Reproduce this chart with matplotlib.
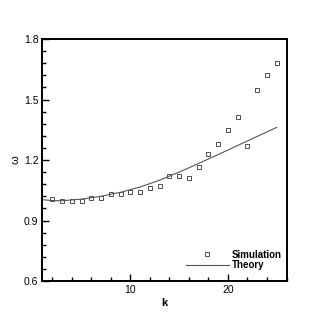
import matplotlib
matplotlib.use("Agg")
import matplotlib.pyplot as plt
from matplotlib.ticker import MultipleLocator

plt.rcParams["font.family"] = ["Liberation Sans", "DejaVu Sans"]

# simulation points
k_sim = list(range(2, 26))
w_sim = [1.007, 0.997, 0.997, 0.997, 1.012, 1.012, 1.029, 1.029, 1.042, 1.042,
         1.062, 1.073, 1.120, 1.123, 1.113, 1.164, 1.232, 1.279, 1.348, 1.413,
         1.269, 1.548, 1.620, 1.682]

# theory curve
k_th = [1, 2, 3, 5, 7, 9, 11, 13, 15, 17, 19, 21, 23, 25]
w_th = [1.003, 0.999, 0.998, 1.006, 1.020, 1.040, 1.066, 1.100, 1.140,
        1.183, 1.227, 1.272, 1.317, 1.362]

fig = plt.figure(figsize=(3.27, 3.17), dpi=100)
ax = fig.add_axes([42.5 / 327, 1 - 281 / 317, 244 / 327, 242 / 317])

ax.plot(k_sim, w_sim, "s", ms=2.6, mfc="white", mec="#333333", mew=0.6,
        label="Simulation")
ax.plot(k_th, w_th, "-", color="#555555", lw=0.8, label="Theory")

ax.set_xlim(1, 26)
ax.set_ylim(0.6, 1.8)
ax.xaxis.set_major_locator(MultipleLocator(10))
ax.xaxis.set_minor_locator(MultipleLocator(2))
ax.yaxis.set_major_locator(MultipleLocator(0.3))
ax.yaxis.set_minor_locator(MultipleLocator(0.06))
ax.yaxis.set_major_formatter(matplotlib.ticker.FormatStrFormatter("%.1f"))

ax.tick_params(which="both", direction="in", top=False, right=False,
               labelsize=7.5, width=1.0, pad=3)
ax.tick_params(which="major", length=5)
ax.tick_params(which="minor", length=3)
for s in ax.spines.values():
    s.set_linewidth(1.4)

ax.set_xlabel("k", fontsize=8, fontweight="bold", labelpad=2)
ax.set_ylabel("ω", fontsize=8, labelpad=2)

leg = ax.legend(loc="lower right", frameon=False,
                prop={"weight": "bold", "size": 7}, handlelength=4.4,
                handletextpad=0.3, labelspacing=0.05,
                bbox_to_anchor=(1.0, 0.024), borderaxespad=0.1)

fig.savefig("out.png", dpi=100)
